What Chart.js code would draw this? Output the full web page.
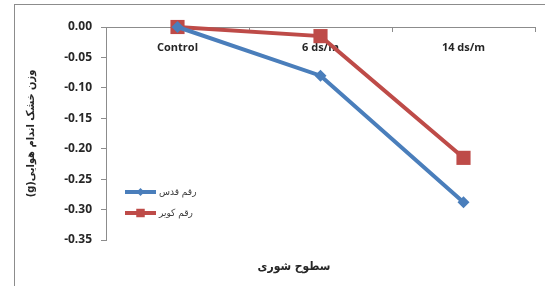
<!DOCTYPE html>
<html>
<head>
<meta charset="utf-8">
<script src="https://cdn.jsdelivr.net/npm/chart.js@4"></script>
<style>
  html, body { margin: 0; padding: 0; background: #fff; }
  #frame { position: absolute; left: 14px; top: 4px; width: 600px; height: 400px; border: 1px solid #8c8c8c; }
  #wrap { position: absolute; left: 0; top: 0; width: 545px; height: 286px; }
</style>
</head>
<body>
<div id="frame"></div>
<div id="wrap"><canvas id="chart"></canvas></div>
<script>
// salinity levels
const categories = ['Control', '6 ds/m', '14 ds/m'];
const qodsValues = [0, -0.08, -0.288];
const kavirValues = [0, -0.015, -0.215];
const seriesNames = ['رقم قدس', 'رقم کویر'];
const yTitle = 'وزن خشک اندام هوایی(g)';
const xTitle = 'سطوح شوری';

const latin = "'Open Sans', 'DejaVu Sans', sans-serif";
const persian = "'DejaVu Sans Condensed', 'DejaVu Sans', sans-serif";

// draws the legend inside the plot and the bottom axis title
const extras = {
    id: 'extras',
    afterDraw(chart) {
        const ctx = chart.ctx;
        const area = chart.chartArea;
        ctx.save();
        chart.data.datasets.forEach((ds, i) => {
            const y = area.top + 165 + i * 21;
            const x0 = area.left + 19;
            const x1 = x0 + 31;
            ctx.strokeStyle = ds.borderColor;
            ctx.lineWidth = 4;
            ctx.beginPath();
            ctx.moveTo(x0, y);
            ctx.lineTo(x1, y);
            ctx.stroke();
            ctx.fillStyle = ds.backgroundColor;
            Chart.helpers.drawPoint(ctx, {
                pointStyle: ds.pointStyle,
                rotation: 0,
                radius: ds.pointStyle === 'rect' ? 6 : 4,
                borderWidth: 0
            }, (x0 + x1) / 2, y);
            ctx.fillStyle = '#404040';
            ctx.font = '10px ' + persian;
            ctx.direction = 'rtl';
            ctx.textAlign = 'left';
            ctx.textBaseline = 'middle';
            ctx.fillText(ds.label, x1 + 3, y);
        });
        ctx.fillStyle = '#262626';
        ctx.font = 'bold 12px ' + persian;
        ctx.direction = 'rtl';
        ctx.textAlign = 'center';
        ctx.textBaseline = 'middle';
        ctx.fillText(xTitle, 294, 267);
        ctx.restore();
    }
};

const ctx = document.getElementById('chart').getContext('2d');
const chart = new Chart(ctx, {
    type: 'line',
    data: {
        labels: categories,
        datasets: [
            {
                label: seriesNames[0],
                data: qodsValues,
                borderColor: '#4a7ebb',
                backgroundColor: '#4a7ebb',
                borderWidth: 4,
                pointStyle: 'rectRot',
                pointRadius: 6,
                pointBorderWidth: 0,
                tension: 0,
                clip: false
            },
            {
                label: seriesNames[1],
                data: kavirValues,
                borderColor: '#be4b48',
                backgroundColor: '#be4b48',
                borderWidth: 4,
                pointStyle: 'rect',
                pointRadius: 10,
                pointBorderWidth: 0,
                tension: 0,
                clip: false
            }
        ]
    },
    options: {
        responsive: true,
        maintainAspectRatio: false,
        animation: false,
        layout: { padding: { left: 20, right: 6, top: 27, bottom: 46 } },
        plugins: {
            legend: { display: false },
            tooltip: { enabled: false }
        },
        scales: {
            x: {
                position: { y: 0 },
                offset: true,
                grid: { offset: true, drawOnChartArea: false, tickLength: 4, color: '#8c8c8c' },
                border: { color: '#8c8c8c', width: 1 },
                ticks: {
                    color: '#262626',
                    padding: 10,
                    maxRotation: 0,
                    font: { family: latin, size: 11, weight: 'bold' }
                }
            },
            y: {
                min: -0.35,
                max: 0,
                afterFit(scale) { scale.width = 86; },
                grid: { drawOnChartArea: false, tickLength: 5, color: '#8c8c8c' },
                border: { color: '#8c8c8c', width: 1 },
                ticks: {
                    stepSize: 0.05,
                    padding: 9,
                    color: '#262626',
                    font: { family: latin, size: 12, weight: 'bold' },
                    callback: v => v.toFixed(2)
                },
                title: {
                    display: true,
                    // right-to-left embedding so "(g)" stays at the end
                    text: '\u202B' + yTitle + '\u202C',
                    color: '#262626',
                    padding: { top: 5, bottom: 0 },
                    font: { family: persian, size: 11, weight: 'bold' }
                }
            }
        }
    },
    plugins: [extras]
});
</script>
</body>
</html>
